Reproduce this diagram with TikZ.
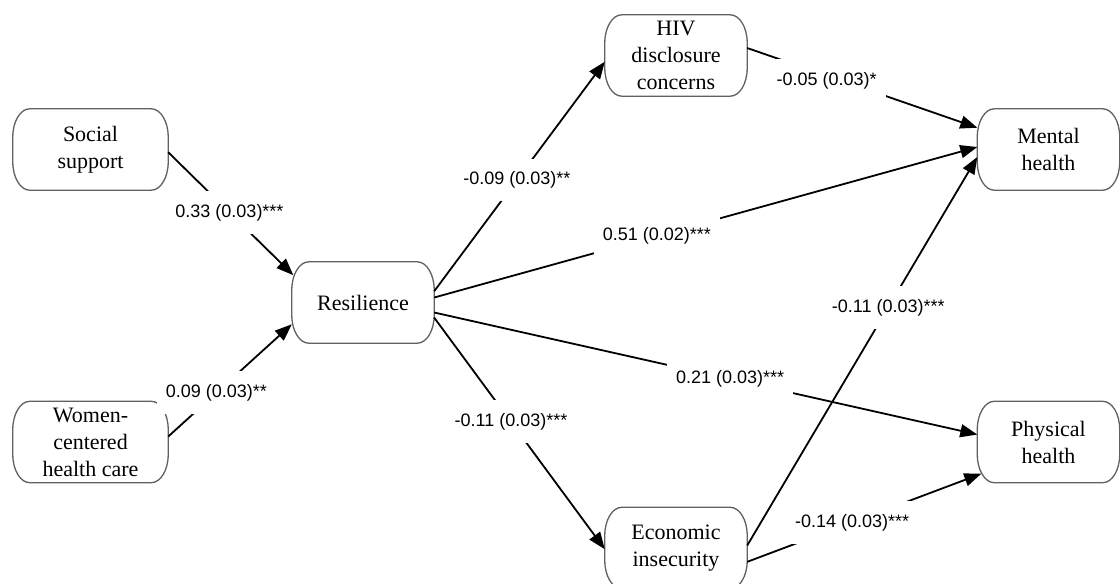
\documentclass[tikz,border=0pt]{standalone}
\usepackage{fontspec}
\setmainfont{Liberation Serif}
\newfontfamily\labfont{Liberation Sans}
\usetikzlibrary{arrows.meta,calc}
\tikzset{
  var/.style={align=center, minimum width=142pt, minimum height=81pt, inner sep=0pt,
    font=\fontsize{22}{27}\selectfont},
  wide/.style={minimum width=155pt},
  outline/.style={draw=black!62, line width=1.3pt},
  path/.style={line width=1.8pt, draw=black},
  arr/.style={path, -{Triangle[length=17pt,width=13pt]}},
  lab/.style={fill=white, inner xsep=9pt, inner ysep=13pt, font=\labfont\fontsize{18}{20}\selectfont}
}
\newcommand\capsuleoutline[1]{%
  \draw[outline] ($(#1.north west)+(17pt,0)$) -- ($(#1.north east)+(-17pt,0)$)
    arc[start angle=90,end angle=0,x radius=17pt,y radius=28pt]
    -- ($(#1.south east)+(0,28pt)$)
    arc[start angle=0,end angle=-90,x radius=17pt,y radius=28pt]
    -- ($(#1.south west)+(17pt,0)$)
    arc[start angle=270,end angle=180,x radius=17pt,y radius=28pt]
    -- ($(#1.north west)+(0,-28pt)$)
    arc[start angle=180,end angle=90,x radius=17pt,y radius=28pt] -- cycle;}
\begin{document}
\begin{tikzpicture}[x=1pt,y=-1pt]
\useasboundingbox (0,0) rectangle (1120,584);
\clip (0,0) rectangle (1120,584);
\node[var,wide] (soc) at (90.5,149.5) {Social\\support};
\node[var,wide] (wom) at (90.5,442) {Women-\\centered\\health care};
\node[var] (res) at (363,302.5) {Resilience};
\node[var] (hiv) at (676,55.5) {HIV\\disclosure\\concerns};
\node[var] (eco) at (676,548) {Economic\\insecurity};
\node[var] (men) at (1048.5,149.5) {Mental\\health};
\node[var] (phy) at (1048.5,442) {Physical\\health};
\foreach \n in {soc,wom,res,hiv,eco,men,phy} {\capsuleoutline{\n}}

\draw[arr] (soc.-2) -- node[lab,pos=0.49] (l1) {0.33 (0.03)***} ([xshift=1.5pt]res.159);
\draw[arr] (wom.4) -- node[lab,pos=0.39] (l2) {0.09 (0.03)**} (res.197);
\draw[arr] (res.9) -- node[lab,pos=0.485] (l3) {-0.09 (0.03)**} (hiv.185);
\draw[arr] (res.4) -- node[lab,pos=0.41] (l4) {0.51 (0.02)***} (men.178);
\draw[arr] (res.-8) -- node[lab,pos=0.545] (l5) {0.21 (0.03)***} (phy.174);
\draw[arr] (res.-12) -- node[lab,pos=0.45] (l6) {-0.11 (0.03)***} (eco.181);
\draw[arr] (hiv.6) -- node[lab,pos=0.345,yshift=-5pt] (l7) {-0.05 (0.03)*} (men.163);
\draw[arr] (eco.2) -- node[lab,pos=0.613] (l8) {-0.11 (0.03)***} (men.186);
\draw[arr] (eco.-11) -- node[lab,pos=0.448] (l9) {-0.14 (0.03)***} ([xshift=4pt]phy.204);
\end{tikzpicture}
\end{document}
